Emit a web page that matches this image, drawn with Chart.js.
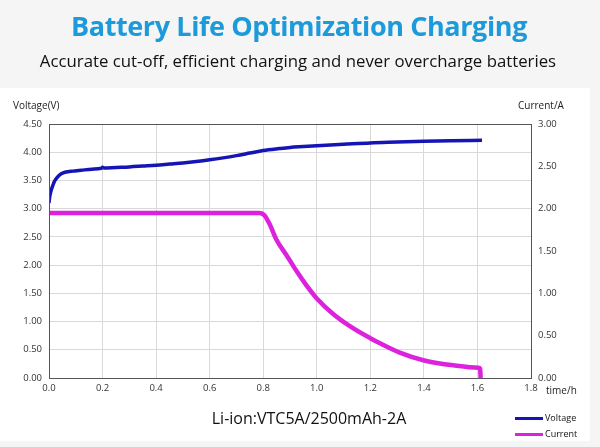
<!DOCTYPE html>
<html>
<head>
<meta charset="utf-8">
<script src="https://cdn.jsdelivr.net/npm/chart.js@4"></script>
<style>
  html, body { margin:0; padding:0; }
  body { width:600px; height:447px; background:#f5f5f5; position:relative; overflow:hidden; font-family:"Open Sans", sans-serif; }
  #panel { position:absolute; left:0; top:88px; width:590px; height:353px; background:#ffffff; }
  #wrap { position:absolute; left:0; top:0; width:600px; height:447px; }
  .t { position:absolute; white-space:nowrap; }
  #title { left:0; width:598px; text-align:center; top:7px; font-size:27px; font-weight:700; color:#1c9ad9; font-family:"Open Sans", sans-serif; letter-spacing:-0.4px; }
  #sub { left:0; width:596px; text-align:center; top:49px; font-size:16.8px; color:#111; font-family:"Open Sans", sans-serif; }
  #vlab { left:13px; top:98px; font-size:10px; color:#222; }
  #clab { left:518px; top:98px; font-size:10px; color:#222; }
  #tlab { left:546px; top:383px; font-size:10px; color:#222; }
  #bottom { left:0; width:618px; text-align:center; top:407px; font-size:16px; color:#111; }
  .lg { position:absolute; left:515px; width:28px; height:3px; }
  .lgt { position:absolute; left:545px; font-size:9px; color:#111; }
</style>
</head>
<body>
<div id="panel"></div>
<div id="wrap"><canvas id="c" width="600" height="447"></canvas></div>
<div class="t" id="title">Battery Life Optimization Charging</div>
<div class="t" id="sub">Accurate cut-off, efficient charging and never overcharge batteries</div>
<div class="t" id="vlab">Voltage(V)</div>
<div class="t" id="clab">Current/A</div>
<div class="t" id="tlab">time/h</div>
<div class="t" id="bottom">Li-ion:VTC5A/2500mAh-2A</div>
<div class="lg" style="top:417px;background:#1515b5"></div>
<div class="lgt" style="top:411px">Voltage</div>
<div class="lg" style="top:433px;background:#dc22dc"></div>
<div class="lgt" style="top:427px">Current</div>
<script>
const voltageTime = [0, 0.003, 0.009, 0.015, 0.021, 0.03, 0.04, 0.053, 0.07, 0.09, 0.12, 0.16, 0.195, 0.2, 0.205, 0.25, 0.3, 0.35, 0.4, 0.45, 0.5, 0.55, 0.6, 0.65, 0.7, 0.75, 0.8, 0.86, 0.9, 0.95, 1.0, 1.1, 1.2, 1.3, 1.4, 1.5, 1.617];
const voltageValues = [3.10, 3.22, 3.34, 3.42, 3.49, 3.55, 3.60, 3.635, 3.655, 3.665, 3.68, 3.70, 3.715, 3.735, 3.72, 3.73, 3.74, 3.755, 3.77, 3.79, 3.81, 3.835, 3.865, 3.90, 3.94, 3.985, 4.03, 4.065, 4.085, 4.10, 4.115, 4.14, 4.165, 4.18, 4.195, 4.205, 4.21];
const currentTime = [0, 0.2, 0.4, 0.6, 0.75, 0.785, 0.805, 0.825, 0.85, 0.887, 0.925, 0.96, 1.0, 1.06, 1.125, 1.2, 1.236, 1.31, 1.398, 1.51, 1.604, 1.61, 1.612];
const currentValues = [1.95, 1.95, 1.95, 1.95, 1.95, 1.95, 1.92, 1.81, 1.63, 1.45, 1.26, 1.10, 0.94, 0.76, 0.61, 0.47, 0.41, 0.30, 0.21, 0.15, 0.12, 0.11, 0.0];
const timeTicks = [0, 0.2, 0.4, 0.6, 0.8, 1.0, 1.2, 1.4, 1.6, 1.8];
const voltageTicks = [0, 0.5, 1, 1.5, 2, 2.5, 3, 3.5, 4, 4.5];
const currentTicks = [0, 0.5, 1, 1.5, 2, 2.5, 3];

const tickFont = { family: "Open Sans", size: 9.5 };
const borderPlugin = {
  id: 'plotBorder',
  afterDatasetsDraw(chart) {
    const a = chart.chartArea, ctx = chart.ctx;
    ctx.save();
    ctx.strokeStyle = '#555';
    ctx.lineWidth = 1;
    ctx.strokeRect(Math.round(a.left) + 0.5, Math.round(a.top) + 0.5, Math.round(a.right - a.left), Math.round(a.bottom - a.top));
    ctx.restore();
  }
};

new Chart(document.getElementById('c'), {
  type: 'line',
  data: {
    datasets: [
      { label: 'Voltage', data: voltageTime.map((t, i) => ({ x: t, y: voltageValues[i] })), yAxisID: 'y',
        borderColor: '#1515b5', borderWidth: 3.5, pointRadius: 0, cubicInterpolationMode: 'monotone' },
      { label: 'Current', data: currentTime.map((t, i) => ({ x: t, y: currentValues[i] })), yAxisID: 'y1',
        borderColor: '#dc22dc', borderWidth: 4.5, pointRadius: 0, cubicInterpolationMode: 'monotone' }
    ]
  },
  options: {
    responsive: false,
    animation: false,
    layout: { padding: { top: 124, left: 0, right: 0, bottom: 0 } },
    plugins: { legend: { display: false }, tooltip: { enabled: false } },
    scales: {
      x: {
        type: 'linear', min: 0, max: 1.8,
        afterBuildTicks: s => { s.ticks = timeTicks.map(v => ({ value: v })); },
        afterFit: s => { s.height = 69; },
        ticks: { font: tickFont, color: '#333', padding: 5, callback: v => Number(v).toFixed(1), maxRotation: 0, autoSkip: false },
        grid: { color: '#d9d9d9', drawTicks: false },
        border: { display: false }
      },
      y: {
        position: 'left', min: 0, max: 4.5,
        afterBuildTicks: s => { s.ticks = voltageTicks.map(v => ({ value: v })); },
        afterFit: s => { s.width = 49; },
        ticks: { font: tickFont, color: '#333', padding: 7, callback: v => Number(v).toFixed(2) },
        grid: { color: '#d9d9d9', drawTicks: false },
        border: { display: false }
      },
      y1: {
        position: 'right', min: 0, max: 3,
        afterBuildTicks: s => { s.ticks = currentTicks.map(v => ({ value: v })); },
        afterFit: s => { s.width = 69; },
        ticks: { font: tickFont, color: '#333', padding: 7, callback: v => Number(v).toFixed(2) },
        grid: { drawOnChartArea: false, drawTicks: false },
        border: { display: false }
      }
    }
  },
  plugins: [borderPlugin]
});
</script>
</body>
</html>
